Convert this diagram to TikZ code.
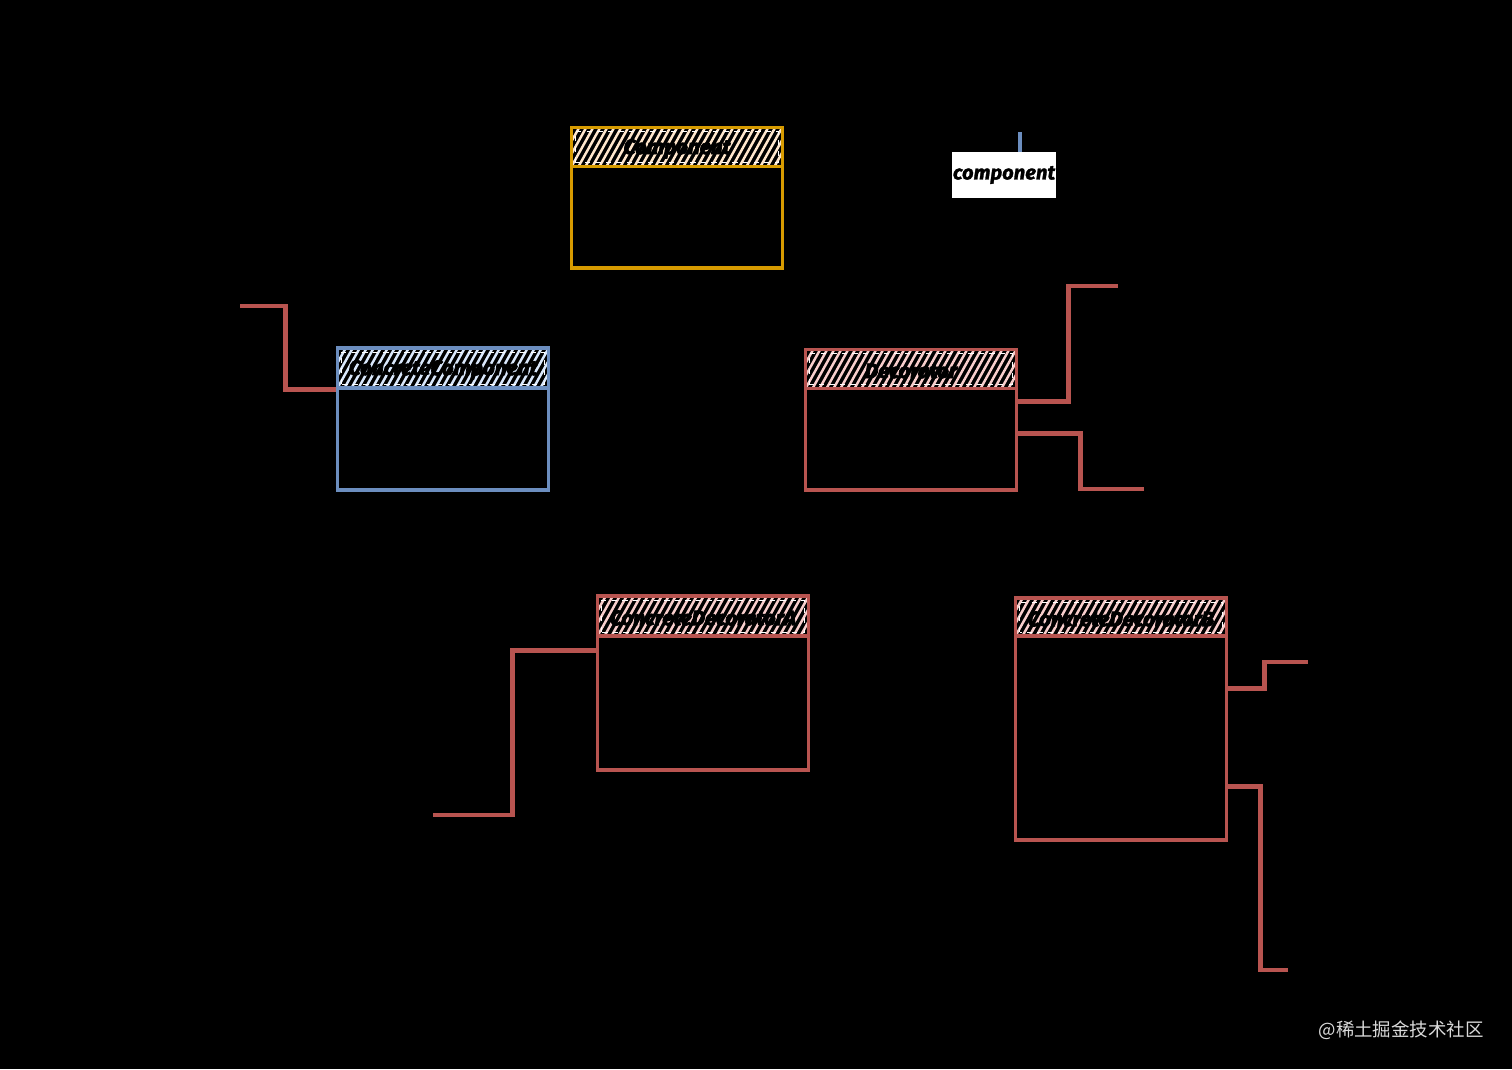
\documentclass[tikz,border=0pt]{standalone}
\usepackage{fontspec}
\newfontfamily\hand{Fira Sans}[BoldItalicFeatures={FakeBold=3.5}]
\newfontfamily\lblfont{Fira Sans}[BoldItalicFeatures={FakeBold=1.5}]
\newfontfamily\cjk{Noto Sans CJK SC}
\usetikzlibrary{calc}
\definecolor{orgS}{HTML}{D79B00}
\definecolor{orgF}{HTML}{FFE6CC}
\definecolor{bluS}{HTML}{6C8EBF}
\definecolor{bluF}{HTML}{DAE8FC}
\definecolor{redS}{HTML}{B85450}
\definecolor{redF}{HTML}{F8CECC}
\tikzset{
  hatch/.style={path picture={
    \foreach \k in {-8,...,34}
      \draw[#1,line width=1.4pt] ([xshift=\k*0.14cm]path picture bounding box.south west) -- ++(0.5cm,0.9cm);
    \draw[white,dashed,line width=0.5pt] ([shift={(0.08cm,0.08cm)}]path picture bounding box.south west) rectangle ([shift={(-0.08cm,-0.08cm)}]path picture bounding box.north east);
  }},
  headbox/.style 2 args={draw=#1, fill=black, hatch=#2, line width=2pt, minimum width=4.22cm, minimum height=0.78cm, inner sep=0pt},
  bodybox/.style={draw=#1, fill=black, line width=2pt, minimum width=4.22cm, inner sep=0pt},
  conn/.style={draw=redS, line width=2.8pt},
  htext/.style={font=\hand\bfseries\itshape\fontsize{11.8}{14}\selectfont, text=black, inner sep=0pt, yshift=-0.04cm},
}
\begin{document}
\begin{tikzpicture}[x=0.02cm,y=-0.02cm]
\fill[black] (0,0) rectangle (1512,1069);
\useasboundingbox (0,0) rectangle (1512,1069);

% Component
\node[bodybox=orgS, minimum height=2.04cm] (compB) at (677,217) {};
\node[headbox={orgS}{orgF}] (compH) at (677,147) {};
\node[htext] (compT) at (compH) {Component};

% ConcreteComponent
\node[bodybox=bluS, minimum height=2.04cm] (ccB) at (443,439) {};
\node[headbox={bluS}{bluF}, minimum height=0.8cm] (ccH) at (443,368) {};
\node[htext] (ccT) at (ccH) {ConcreteComponent};

% Decorator
\node[bodybox=redS, minimum height=2.04cm] (decB) at (911,439) {};
\node[headbox={redS}{redF}] (decH) at (911,369) {};
\node[htext] (decT) at (decH) {Decorator};

% ConcreteDecoratorA
\node[bodybox=redS, minimum height=2.68cm] (cdaB) at (703,703) {};
\node[headbox={redS}{redF}, minimum height=0.8cm] (cdaH) at (703,616) {};
\node[htext] (cdaT) at (cdaH) {ConcreteDecoratorA};

% ConcreteDecoratorB
\node[bodybox=redS, minimum height=4.08cm] (cdbB) at (1121,738) {};
\node[headbox={redS}{redF}, minimum height=0.76cm] (cdbH) at (1121,617) {};
\node[htext] (cdbT) at (cdbH) {ConcreteDecoratorB};

% label "component"
\node[fill=white, minimum width=2.08cm, minimum height=0.92cm, inner sep=0pt,
      font=\lblfont\bfseries\itshape\fontsize{11.5}{13}\selectfont, text=black] (lbl) at (1004,175) {component};
\coordinate (lblTop) at (1020,132);
\draw[bluS, line width=2.2pt] (lblTop) -- (lblTop |- lbl.north);

% connectors
\coordinate (c1) at (240,306);
\coordinate (d1) at (1118,286);
\coordinate (d2) at (1144,489);
\coordinate (a1) at (433,815);
\coordinate (b1) at (1308,662);
\coordinate (b2) at (1288,970);
\draw[conn] (ccH.south west) -- ++(-50,0) |- (c1);
\draw[conn] ($(decB.north east)+(0,15)$) -- ++(50,0) |- (d1);
\draw[conn] ($(decB.north east)+(0,47)$) -- ++(62,0) |- (d2);
\draw[conn] ($(cdaB.north west)+(0,16)$) -- ++(-83,0) |- (a1);
\draw[conn] ($(cdbB.north east)+(0,54)$) -- ++(36,0) |- (b1);
\draw[conn] ($(cdbB.north east)+(0,152)$) -- ++(32,0) |- (b2);

% watermark
\node[text=white!85!black, font=\cjk\fontsize{10.5}{12}\selectfont, anchor=east, inner sep=0pt] (wm) at (1484,1030) {@稀土掘金技术社区};
\end{tikzpicture}
\end{document}
